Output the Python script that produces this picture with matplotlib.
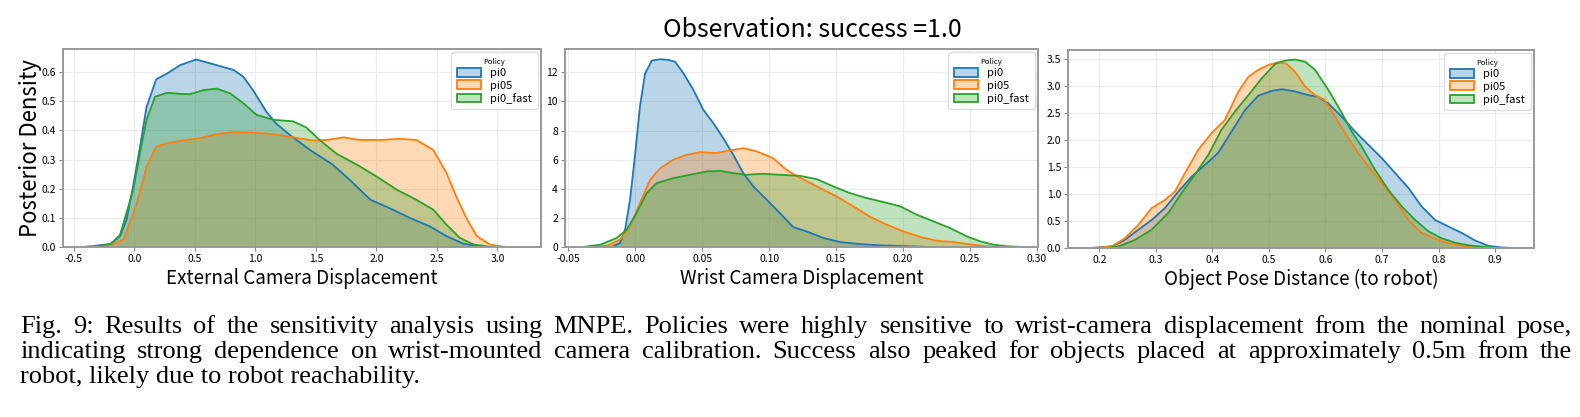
import numpy as np
import matplotlib
matplotlib.use("Agg")
from matplotlib import pyplot as plt
from matplotlib.patches import Patch
from matplotlib.colors import to_rgba

plt.rcParams['font.family'] = ['Noto Sans CJK JP', 'DejaVu Sans']

policies = ['pi0', 'pi05', 'pi0_fast']
colors = ['#1f77b4', '#ff7f0e', '#2ca02c']

# panel 1: external camera displacement
ext_x = {
    'pi0': [-0.42, -0.2, -0.12, -0.065, -0.01, 0.045, 0.10, 0.18, 0.27, 0.38, 0.51, 0.65, 0.82,
            0.90, 0.98, 1.09, 1.17, 1.285, 1.45, 1.64, 1.78, 1.95, 2.11, 2.28, 2.44, 2.58, 2.72,
            2.86, 2.95],
    'pi05': [-0.42, -0.2, -0.09, 0.02, 0.10, 0.18, 0.27, 0.40, 0.54, 0.68, 0.82, 0.98, 1.15,
             1.31, 1.48, 1.59, 1.73, 1.86, 2.03, 2.19, 2.33, 2.47, 2.58, 2.66, 2.75, 2.83,
             2.94, 3.05, 3.1],
    'pi0_fast': [-0.35, -0.2, -0.12, -0.01, 0.045, 0.10, 0.17, 0.27, 0.38, 0.46, 0.57, 0.68,
                 0.79, 0.90, 1.01, 1.15, 1.31, 1.42, 1.53, 1.67, 1.84, 2.0, 2.17, 2.33, 2.47,
                 2.58, 2.69, 2.80, 2.95],
}
ext_y = {
    'pi0': [0.0, 0.01, 0.036, 0.094, 0.21, 0.34, 0.48, 0.575, 0.595, 0.624, 0.643, 0.627, 0.607,
            0.584, 0.538, 0.464, 0.424, 0.384, 0.333, 0.282, 0.23, 0.162, 0.133, 0.099, 0.071,
            0.037, 0.011, 0.002, 0.0],
    'pi05': [0.0, 0.005, 0.025, 0.15, 0.276, 0.344, 0.356, 0.365, 0.373, 0.387, 0.394, 0.392,
             0.387, 0.376, 0.365, 0.367, 0.376, 0.367, 0.367, 0.371, 0.367, 0.333, 0.253, 0.173,
             0.094, 0.037, 0.008, 0.001, 0.0],
    'pi0_fast': [0.0, 0.01, 0.04, 0.196, 0.32, 0.436, 0.515, 0.529, 0.525, 0.524, 0.538, 0.543,
                 0.527, 0.493, 0.453, 0.436, 0.431, 0.41, 0.367, 0.32, 0.282, 0.242, 0.196,
                 0.162, 0.128, 0.076, 0.031, 0.009, 0.0],
}

# panel 2: wrist camera displacement
wrist_x = {
    'pi0': [-0.0176, -0.0114, -0.0076, -0.0039, 0.0, 0.0035, 0.0073, 0.0123, 0.0185, 0.0247,
            0.0297, 0.036, 0.0434, 0.0509, 0.0584, 0.0658, 0.0733, 0.0807, 0.0882, 0.0982,
            0.108, 0.118, 0.128, 0.1406, 0.153, 0.168, 0.183, 0.198, 0.213, 0.22],
    'pi05': [-0.034, -0.021, -0.0114, -0.0039, 0.0035, 0.011, 0.0185, 0.0285, 0.0384, 0.0484,
             0.0609, 0.0708, 0.0808, 0.0908, 0.103, 0.113, 0.121, 0.131, 0.1406, 0.1505, 0.163,
             0.175, 0.188, 0.2004, 0.213, 0.225, 0.2377, 0.25, 0.2627, 0.27],
    'pi0_fast': [-0.039, -0.026, -0.0139, -0.0064, 0.001, 0.0085, 0.016, 0.0285, 0.041, 0.0534,
                 0.0634, 0.0733, 0.083, 0.0957, 0.108, 0.123, 0.1356, 0.148, 0.1605, 0.173,
                 0.1854, 0.198, 0.2103, 0.2228, 0.2353, 0.2477, 0.2577, 0.2676, 0.2776, 0.29],
}
wrist_y = {
    'pi0': [0.0, 0.27, 1.19, 3.25, 6.45, 9.65, 11.9, 12.8, 12.9, 12.85, 12.73, 11.93, 10.8, 9.42,
            8.5, 7.47, 6.33, 5.07, 4.16, 3.25, 2.33, 1.37, 1.07, 0.62, 0.34, 0.2, 0.11, 0.07,
            0.02, 0.0],
    'pi05': [0.0, 0.09, 0.5, 1.42, 3.0, 4.6, 5.4, 6.0, 6.33, 6.51, 6.45, 6.63, 6.79, 6.56, 6.1,
             5.3, 4.85, 4.39, 3.93, 3.47, 2.79, 2.1, 1.53, 1.07, 0.69, 0.43, 0.34, 0.18, 0.05,
             0.0],
    'pi0_fast': [0.0, 0.16, 0.62, 1.19, 2.33, 3.7, 4.39, 4.73, 4.96, 5.19, 5.23, 5.07, 4.96,
                 5.03, 4.96, 4.89, 4.66, 4.16, 3.7, 3.36, 3.09, 2.79, 2.22, 1.76, 1.3, 0.73,
                 0.39, 0.16, 0.05, 0.0],
}

# panel 3: object pose distance
pose_x = {
    'pi0': [0.1835, 0.222, 0.245, 0.269, 0.2926, 0.316, 0.34, 0.363, 0.387, 0.41, 0.434, 0.458,
            0.481, 0.505, 0.5225, 0.546, 0.57, 0.587, 0.605, 0.629, 0.652, 0.676, 0.70, 0.723,
            0.747, 0.77, 0.794, 0.817, 0.841, 0.8645, 0.888, 0.912, 0.932],
    'pi05': [0.19, 0.222, 0.245, 0.269, 0.2926, 0.316, 0.334, 0.3515, 0.375, 0.3987, 0.422,
             0.446, 0.4636, 0.481, 0.499, 0.5166, 0.531, 0.546, 0.564, 0.5815, 0.599, 0.617,
             0.6345, 0.658, 0.676, 0.70, 0.723, 0.747, 0.77, 0.794, 0.817, 0.847, 0.87],
    'pi0_fast': [0.21, 0.234, 0.263, 0.2926, 0.322, 0.3456, 0.369, 0.393, 0.416, 0.44, 0.4636,
                 0.487, 0.511, 0.528, 0.546, 0.564, 0.5815, 0.605, 0.629, 0.6463, 0.664, 0.6876,
                 0.711, 0.735, 0.7586, 0.782, 0.8055, 0.829, 0.853, 0.882, 0.9],
}
pose_y = {
    'pi0': [0.0, 0.03, 0.15, 0.34, 0.52, 0.74, 1.05, 1.32, 1.54, 1.76, 2.16, 2.56, 2.82, 2.91,
            2.94, 2.9, 2.83, 2.8, 2.68, 2.43, 2.16, 1.91, 1.66, 1.39, 1.11, 0.77, 0.52, 0.4,
            0.28, 0.14, 0.04, 0.01, 0.0],
    'pi05': [0.0, 0.03, 0.18, 0.43, 0.74, 0.89, 1.05, 1.39, 1.82, 2.13, 2.37, 2.9, 3.17, 3.3,
             3.39, 3.44, 3.41, 3.27, 2.99, 2.83, 2.74, 2.43, 2.13, 1.76, 1.51, 1.2, 0.89, 0.52,
             0.28, 0.17, 0.09, 0.03, 0.0],
    'pi0_fast': [0.0, 0.03, 0.15, 0.34, 0.65, 1.02, 1.36, 1.73, 2.19, 2.53, 2.83, 3.14, 3.41,
                 3.47, 3.49, 3.45, 3.3, 2.93, 2.5, 2.16, 1.88, 1.45, 1.08, 0.77, 0.52, 0.31, 0.18,
                 0.1, 0.05, 0.02, 0.0],
}

panels = [
    (ext_x, ext_y, 'External Camera Displacement', (-0.59, 3.36), (0, 0.679),
     np.arange(-0.5, 3.01, 0.5), np.arange(0, 0.61, 0.1), '{:.1f}', '{:.1f}'),
    (wrist_x, wrist_y, 'Wrist Camera Displacement', (-0.0525, 0.301), (0, 13.6),
     np.arange(-0.05, 0.301, 0.05), np.arange(0, 12.1, 2), '{:.2f}', '{:.0f}'),
    (pose_x, pose_y, 'Object Pose Distance (to robot)', (0.1446, 0.969), (0, 3.667),
     np.arange(0.2, 0.91, 0.1), np.arange(0, 3.51, 0.5), '{:.1f}', '{:.1f}'),
]
boxes = [
    [0.0399, 0.4077, 0.3025, 0.4748],
    [0.3576, 0.4077, 0.2994, 0.4748],
    [0.6760, 0.4053, 0.2949, 0.4748],
]

fig = plt.figure(figsize=(15.8, 4.17), dpi=100)

for i, (xs, ys, xlabel, xlim, ylim, xt, yt, xf, yf) in enumerate(panels):
    ax = fig.add_axes(boxes[i])
    ax.set_axisbelow(True)
    ax.grid(True, color='#ebebeb', linewidth=0.8)
    for name, c in zip(policies, colors):
        ax.fill_between(xs[name], ys[name], 0, facecolor=c, alpha=0.3, linewidth=0)
        ax.plot(xs[name], ys[name], color=c, linewidth=1.3)
    ax.set_xlim(*xlim)
    ax.set_ylim(*ylim)
    ax.set_xticks(xt)
    ax.set_xticklabels([xf.format(v) for v in xt])
    ax.set_yticks(yt)
    ax.set_yticklabels([yf.format(v) for v in yt])
    ax.tick_params(labelsize=7.5, length=3, color='#888888', pad=2)
    for sp in ax.spines.values():
        sp.set_color('#999999')
        sp.set_linewidth(1.4)
    ax.set_xlabel(xlabel, fontsize=13.6, labelpad=3)
    if i == 0:
        ax.set_ylabel('Posterior Density', fontsize=16, labelpad=0)
    handles = [Patch(facecolor=to_rgba(c, 0.3), edgecolor=c, linewidth=1.3) for c in colors]
    ax.legend(handles, policies, title='Policy', loc='upper right', fontsize=8,
              title_fontsize=5.5, framealpha=1, edgecolor='#dddddd', borderpad=0.5,
              handlelength=2.2, handleheight=0.8, labelspacing=0.2, borderaxespad=0.3)

fig.text(0.514, 1 - 30 / 417, 'Observation: success =1.0', ha='center', va='center',
         fontsize=18)

# caption, justified by hand
caption = [
    'Fig. 9: Results of the sensitivity analysis using MNPE. Policies were highly sensitive to '
    'wrist-camera displacement from the nominal pose,',
    'indicating strong dependence on wrist-mounted camera calibration. Success also peaked for '
    'objects placed at approximately 0.5m from the',
    'robot, likely due to robot reachability.',
]
cap_base = [332.7, 357.7, 382.7]
left_px, right_px = 20, 1572
cap_size = 19
renderer = fig.canvas.get_renderer()

for k, line in enumerate(caption):
    y = 1 - cap_base[k] / 417
    if k == len(caption) - 1:
        fig.text(left_px / 1580, y, line, fontsize=cap_size, family='Liberation Serif',
                 va='baseline')
        continue
    words = line.split(' ')
    texts = [fig.text(0, y, w, fontsize=cap_size, family='Liberation Serif', va='baseline')
             for w in words]
    widths = [t.get_window_extent(renderer).width for t in texts]
    gap = (right_px - left_px - sum(widths)) / (len(words) - 1)
    x = left_px
    for t, w in zip(texts, widths):
        t.set_x(x / 1580)
        x += w + gap

fig.savefig('out.png', dpi=100)
